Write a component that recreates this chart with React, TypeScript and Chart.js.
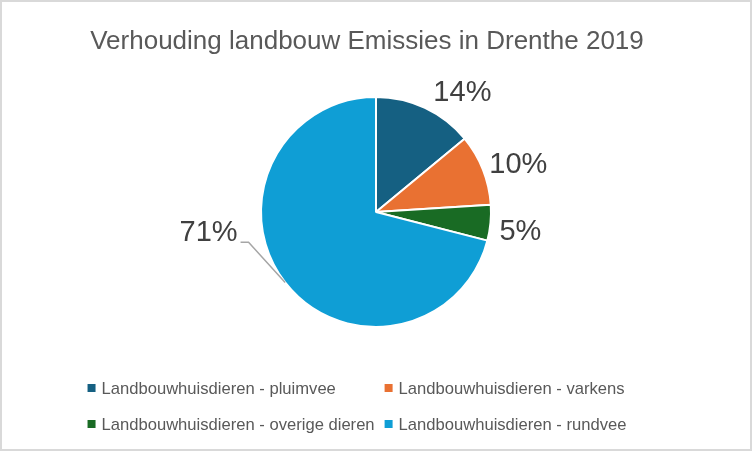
import React, { useEffect, useRef } from "react";
import { Chart, registerables } from "chart.js";

Chart.register(...registerables);

const title = "Verhouding landbouw Emissies in Drenthe 2019";
const categories = [
  "Landbouwhuisdieren - pluimvee",
  "Landbouwhuisdieren - varkens",
  "Landbouwhuisdieren - overige dieren",
  "Landbouwhuisdieren - rundvee",
];
const values = [14, 10, 5, 71];
const colors = ["#156082", "#E97132", "#196B24", "#0F9ED5"];

const FONT = "'Liberation Sans', Arial, sans-serif";

const excelPlugin = {
  id: "excelPie",
  afterDraw(chart: any, _args: any, opts: any) {
    const ctx = chart.ctx;
    const W = chart.width;
    const H = chart.height;
    ctx.save();

    // outer frame
    ctx.strokeStyle = "#d9d9d9";
    ctx.lineWidth = 2;
    ctx.strokeRect(1, 1, W - 2, H - 2);

    // title
    ctx.fillStyle = "#595959";
    ctx.font = `26px ${FONT}`;
    ctx.textAlign = "center";
    ctx.textBaseline = "alphabetic";
    ctx.fillText(title, W / 2 + opts.titleShift, opts.titleBaseline);

    // data labels
    const meta = chart.getDatasetMeta(0);
    const ds = chart.data.datasets[0].data as number[];
    const total = ds.reduce((a: number, b: number) => a + b, 0);
    const fs = 29;
    const capH = fs * 0.716;
    ctx.font = `${fs}px ${FONT}`;
    meta.data.forEach((arc: any, i: number) => {
      const p = arc.getProps(["x", "y", "startAngle", "endAngle", "outerRadius"], true);
      const mid = (p.startAngle + p.endAngle) / 2;
      const txt = Math.round((ds[i] / total) * 100) + "%";
      const w = ctx.measureText(txt).width;
      const h = 22;
      const [nx, ny] = opts.nudge[i];
      if (opts.leader[i]) {
        const sx = p.x + Math.cos(mid) * p.outerRadius;
        const sy = p.y + Math.sin(mid) * p.outerRadius;
        const la = mid + opts.leaderShift;
        const lr = p.outerRadius + opts.leaderGap;
        const ex = p.x + Math.cos(la) * lr;
        const ey = p.y + Math.sin(la) * lr;
        const dir = Math.cos(la) < 0 ? -1 : 1;
        const hx = ex + dir * 8;
        ctx.strokeStyle = "#a6a6a6";
        ctx.lineWidth = 1.5;
        ctx.beginPath();
        ctx.moveTo(sx, sy);
        ctx.lineTo(ex, ey);
        ctx.lineTo(hx, ey);
        ctx.stroke();
        ctx.fillStyle = "#404040";
        ctx.textAlign = dir < 0 ? "right" : "left";
        ctx.fillText(txt, hx + dir * 4 + nx, ey - 11 + capH / 2 + ny);
      } else {
        const r = p.outerRadius + opts.labelGap;
        const ax = p.x + Math.cos(mid) * r;
        const ay = p.y + Math.sin(mid) * r;
        const cx = ax + (w / 2) * (Math.cos(mid) >= 0 ? 1 : -1);
        const cy = ay + (h / 2) * Math.sin(mid);
        ctx.fillStyle = "#404040";
        ctx.textAlign = "center";
        ctx.fillText(txt, cx + nx, cy + capH / 2 + ny);
      }
    });

    // legend (2 columns)
    const lfs = 16.6;
    ctx.font = `${lfs}px ${FONT}`;
    const labels = chart.data.labels as string[];
    const bg = chart.data.datasets[0].backgroundColor as string[];
    const box = 8;
    const gap = 6;
    const colSpace = 10;
    const col1W = Math.max(
      ...labels.filter((_, i) => i % 2 === 0).map((l) => box + gap + ctx.measureText(l).width)
    );
    const col2W = Math.max(
      ...labels.filter((_, i) => i % 2 === 1).map((l) => box + gap + ctx.measureText(l).width)
    );
    const totalW = col1W + colSpace + col2W;
    const left = (W - totalW) / 2 + opts.legendShift;
    ctx.textAlign = "left";
    ctx.textBaseline = "alphabetic";
    labels.forEach((l, i) => {
      const col = i % 2;
      const row = Math.floor(i / 2);
      const x = left + (col === 0 ? 0 : col1W + colSpace);
      const yc = opts.legendTop + row * opts.legendRowH;
      ctx.fillStyle = bg[i];
      ctx.fillRect(x, yc - box / 2, box, box);
      ctx.fillStyle = "#595959";
      ctx.fillText(l, x + box + gap, yc + (lfs * 0.716) / 2);
    });

    ctx.restore();
  },
};

export default function App() {
  const ref = useRef<HTMLCanvasElement>(null);
  useEffect(() => {
    document.body.style.margin = "0";
    if (!ref.current) return;
    const chart = new Chart(ref.current, {
      type: "pie",
      data: {
        labels: categories,
        datasets: [
          {
            data: values,
            backgroundColor: colors,
            borderColor: "#ffffff",
            borderWidth: 2,
          },
        ],
      },
      options: {
        animation: false,
        responsive: true,
        maintainAspectRatio: false,
        radius: 115,
        layout: { padding: { top: 60, bottom: 87, left: 0, right: 0 } },
        plugins: {
          legend: { display: false },
          title: { display: false },
          tooltip: { enabled: false },
          excelPie: {
            titleBaseline: 49,
            titleShift: -9,
            labelGap: 8,
            nudge: [[5, 0], [-1, 0], [1, 5], [1, -1]],
            leader: [false, false, false, true],
            leaderShift: (24.4 * Math.PI) / 180,
            leaderGap: 16,
            legendTop: 388,
            legendRowH: 36,
            legendShift: -19,
          },
        } as any,
      },
      plugins: [excelPlugin],
    });
    return () => chart.destroy();
  }, []);
  return (
    <div style={{ width: 752, height: 451, position: "relative", background: "#fff" }}>
      <canvas ref={ref} />
    </div>
  );
}
